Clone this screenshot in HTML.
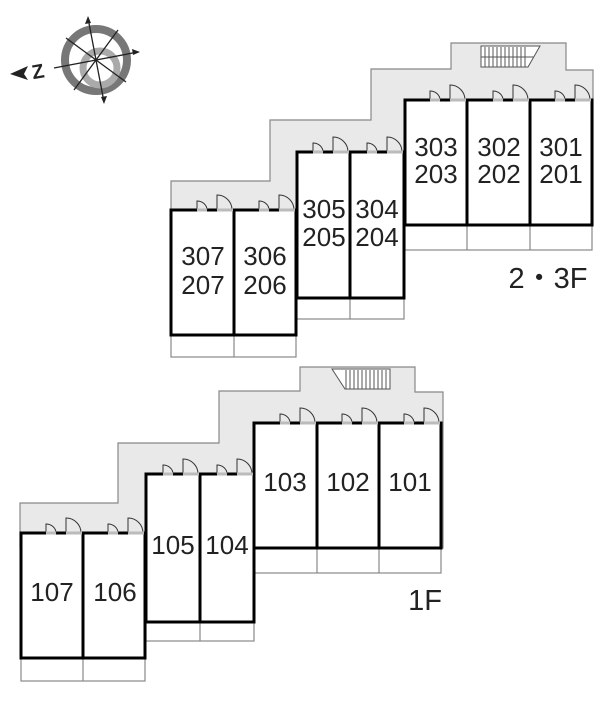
<!DOCTYPE html>
<html><head><meta charset="utf-8"><style>
html,body{margin:0;padding:0;background:#fff;}
svg{display:block;}
text{font-family:"Liberation Sans",sans-serif;fill:#222;}
</style></head><body>
<svg id="s" width="613" height="720" viewBox="0 0 613 720" xmlns="http://www.w3.org/2000/svg">
<polygon points="171,225 171,181 270,181 270,120 371,120 371,69 451,69 451,43 566,43 566,70 593,70 593,225" fill="#e9e9e9" stroke="#888" stroke-width="1.2"/>
<g stroke="#555" stroke-width="1" fill="#fff">
<polygon points="481,46 540,46 528,67 481,67"/>
<path d="M485,47V67M489,47V67M493,47V67M497,47V67M501,47V67M505,47V67M509,47V67M513,47V67M517,47V67M521,47V67M525,47V67"/>
<path d="M481,57H534"/>
</g>
<g fill="#fff" stroke="#888" stroke-width="1.2">
<rect x="171" y="335" width="125" height="22"/><line x1="234" y1="335" x2="234" y2="357"/>
<rect x="297" y="298" width="107" height="21"/><line x1="350" y1="298" x2="350" y2="319"/>
<rect x="405" y="225" width="187" height="25"/><line x1="467" y1="225" x2="467" y2="250"/><line x1="530" y1="225" x2="530" y2="250"/>
</g>
<polygon points="20,548 20,503 118,503 118,443 219,443 219,391 300,391 300,367 415,367 415,392 443,392 443,548" fill="#e9e9e9" stroke="#888" stroke-width="1.2"/>
<g stroke="#555" stroke-width="1" fill="#fff">
<polygon points="332,369 390,369 390,389 345,389"/>
<path d="M346,370V389M350,370V389M354,370V389M358,370V389M362,370V389M366,370V389M370,370V389M374,370V389M378,370V389M382,370V389M386,370V389"/>
</g>
<g fill="#fff" stroke="#888" stroke-width="1.2">
<rect x="21" y="658" width="124" height="23"/><line x1="83" y1="658" x2="83" y2="681"/>
<rect x="146" y="622" width="108" height="19"/><line x1="200" y1="622" x2="200" y2="641"/>
<rect x="254" y="548" width="187" height="25"/><line x1="317" y1="548" x2="317" y2="573"/><line x1="379" y1="548" x2="379" y2="573"/>
</g>
<g id="units" fill="#fff" stroke="#000" stroke-width="3"></g>
<g id="doors" fill="none" stroke="#333" stroke-width="1"></g>
<g font-size="26" text-anchor="middle">
<text x="203" y="265">307</text><text x="203" y="294">207</text>
<text x="324" y="218">305</text><text x="324" y="246">205</text>
<text x="377" y="218">304</text><text x="377" y="246">204</text>
<text x="436" y="156">303</text><text x="436" y="183">203</text>
<text x="499" y="156">302</text><text x="499" y="183">202</text>
<text x="561" y="156">301</text><text x="561" y="183">201</text>
<text x="265" y="265">306</text><text x="265" y="294">206</text>
<text x="52" y="601">107</text><text x="115" y="601">106</text>
<text x="173" y="554">105</text><text x="227" y="554">104</text>
<text x="285" y="491">103</text><text x="348" y="491">102</text><text x="410" y="491">101</text>
<text x="548" y="288" font-size="29">2・3F</text>
<text x="425" y="610" font-size="29">1F</text>
</g>
<g transform="translate(96,60)">
<circle r="31" fill="none" stroke="#777" stroke-width="8"/>
<circle r="17" fill="none" stroke="#aaa" stroke-width="7" transform="translate(4,8)"/>
<g stroke="#222" stroke-width="1.3">
<line x1="-8" y1="-42" x2="8" y2="42"/><line x1="-42" y1="8" x2="42" y2="-8"/>
<line x1="-30" y1="-22" x2="30" y2="22"/><line x1="-22" y1="30" x2="22" y2="-30"/>
</g>
<polygon points="-8,-44 -11,-36 -5,-37" fill="#222"/>
<polygon points="44,-8 36,-11 37,-5" fill="#222"/>
<polygon points="8,44 5,37 11,36" fill="#222"/>
</g>
<text x="32" y="78" font-size="20" font-weight="bold" font-family="Liberation Serif,serif" fill="#222" transform="rotate(-10 40 72)">Z</text>
<polygon points="10,74 28,66 24,74 28,80" fill="#222"/>
</svg>
<script>
var U=[[171,210,63,125],[234,210,62,125],[297,152,53,146],[350,152,54,146],[405,100,62,125],[467,100,63,125],[530,100,62,125],
[21,533,62,125],[83,533,62,125],[146,474,54,148],[200,474,54,148],[254,423,63,125],[317,423,62,125],[379,423,62,125]];
var ns="http://www.w3.org/2000/svg",u=document.getElementById('units'),d=document.getElementById('doors');
U.forEach(function(r){
 var e=document.createElementNS(ns,'rect');e.setAttribute('x',r[0]);e.setAttribute('y',r[1]);e.setAttribute('width',r[2]);e.setAttribute('height',r[3]);u.appendChild(e);
 var x=r[0],y=r[1],a=x+r[2]-37,b=x+r[2]-17;
 var p=document.createElementNS(ns,'path');
 p.setAttribute('d','M'+a+','+y+'v-9a10,9 0 0 1 10,9M'+b+','+y+'v-15a15,15 0 0 1 15,15');
 d.appendChild(p);
 var w=document.createElementNS(ns,'line');w.setAttribute('x1',b);w.setAttribute('x2',x+r[2]-1);w.setAttribute('y1',y);w.setAttribute('y2',y);w.setAttribute('stroke','#bbb');w.setAttribute('stroke-width','3');d.appendChild(w);
 var w2=document.createElementNS(ns,'line');w2.setAttribute('x1',a);w2.setAttribute('x2',a+10);w2.setAttribute('y1',y);w2.setAttribute('y2',y);w2.setAttribute('stroke','#bbb');w2.setAttribute('stroke-width','3');d.appendChild(w2);
});
</script>
</body></html>
